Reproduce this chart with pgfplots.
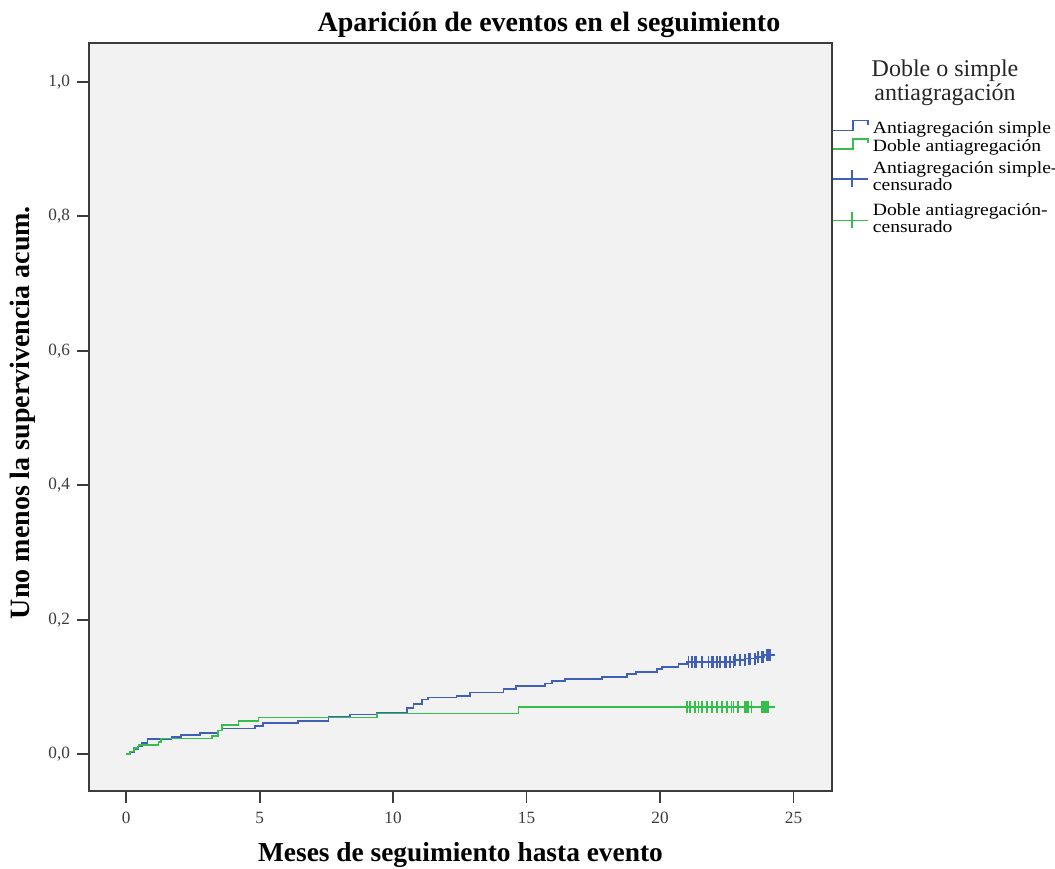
\documentclass[border=0pt]{standalone}
\usepackage{pgfplots}
\pgfplotsset{compat=1.18}
\usepackage{fontspec}
\setmainfont{Liberation Serif}
\newfontfamily\legfont{Liberation Serif}[FakeStretch=1.14]
\definecolor{spssblue}{HTML}{4060B8}
\definecolor{spssgreen}{HTML}{34BE4C}
\definecolor{bgc}{HTML}{F2F2F2}
\definecolor{framec}{HTML}{3C3C3C}
\begin{document}
\begin{tikzpicture}
\begin{axis}[
  at={(0,0)}, anchor=south west,
  scale only axis, width=371.5pt, height=374pt,
  xmin=-1.39, xmax=26.44, ymin=-0.055, ymax=1.058,
  clip=false,
  axis background/.style={fill=bgc},
  axis line style={framec, line width=0.9pt},
  xtick={0,5,10,15,20,25}, ytick={0,0.2,0.4,0.6,0.8,1},
  tick style={framec, line width=0.9pt},
  major tick length=6pt,
  tick align=outside, xtick pos=bottom, ytick pos=left,
  /pgf/number format/assume math mode=true,
  yticklabel style={/pgf/number format/fixed, /pgf/number format/fixed zerofill, /pgf/number format/precision=1, /pgf/number format/use comma},
  ticklabel style={font=\fontsize{8.6}{10}\selectfont, text=framec},
  xticklabel style={yshift=-1pt},
  every axis title shift=0pt,
  title={Aparición de eventos en el seguimiento},
  title style={at={(axis description cs:0.619,1.024)}, anchor=center, font=\fontsize{14}{16}\selectfont\bfseries},
  xlabel={Meses de seguimiento hasta evento},
  xlabel style={at={(axis description cs:0.5,-0.0856)}, anchor=center, font=\fontsize{13.7}{16}\selectfont\bfseries},
  ylabel={Uno menos la supervivencia acum.},
  ylabel style={at={(axis description cs:-0.0889,0.506)}, anchor=center, font=\fontsize{14}{16}\selectfont\bfseries},
  legend style={at={(axis description cs:1,0.898)}, anchor=north west, draw=none, fill=none,
    inner sep=0pt, row sep=0pt, font=\legfont\fontsize{8.6}{8.5}\selectfont,
    cells={anchor=west, align=left, inner ysep=0pt}},
]
\addplot[spssblue, line width=0.85pt, const plot,
  legend image code/.code={\draw[spssblue,line width=0.75pt] (0pt,-0.7pt)--(9.8pt,-0.7pt)--(9.8pt,4.3pt)--(17.5pt,4.3pt)--(17.5pt,2.2pt);}]
coordinates {
(0,0) (0.15,0.003) (0.3,0.007) (0.45,0.011) (0.6,0.016) (0.8,0.022)
(1.7,0.025) (2.05,0.0283) (2.77,0.0317) (3.45,0.035) (3.6,0.038)
(4.83,0.042) (5.14,0.046) (6.45,0.0496) (7.58,0.0556) (8.39,0.059)
(9.39,0.0615) (10.51,0.069) (10.76,0.074) (11.07,0.081) (11.32,0.084)
(12.38,0.0867) (12.88,0.0917) (14.13,0.0967) (14.6,0.101) (15.69,0.105)
(15.94,0.1086) (16.44,0.1116) (17.82,0.115) (18.75,0.119) (19.1,0.1225)
(19.88,0.1265) (20.06,0.130) (20.69,0.1335) (21.0,0.1365) (22.8,0.140)
(23.2,0.142) (23.6,0.1445) (23.9,0.147) (24.3,0.147)
};
\addlegendentry[text height=4.8pt, text depth=0.5pt]{Antiagregación simple}
\addplot[spssgreen, line width=0.85pt, const plot,
  legend image code/.code={\draw[spssgreen,line width=0.75pt] (0pt,-0.7pt)--(9.8pt,-0.7pt)--(9.8pt,4.3pt)--(17.5pt,4.3pt)--(17.5pt,2.2pt);}]
coordinates {
(0,0) (0.15,0.004) (0.3,0.009) (0.46,0.0134) (1.21,0.018) (1.3,0.0233)
(3.21,0.0273) (3.45,0.035) (3.6,0.0432) (4.21,0.0496) (4.96,0.0545)
(9.39,0.0605) (14.7,0.0700) (24.3,0.0700)
};
\addlegendentry[text height=4.8pt, text depth=0.5pt]{Doble antiagregación}
\addplot[spssblue, only marks, mark=|, mark size=3pt, mark options={line width=0.85pt},
  legend image code/.code={\draw[spssblue,line width=0.75pt] (0pt,-0.5pt)--(17.5pt,-0.5pt); \draw[spssblue,line width=0.75pt] (9.3pt,-4.5pt)--(9.3pt,3.7pt);}]
coordinates {
(21.06,0.1365) (21.19,0.1365) (21.31,0.1365) (21.37,0.1365) (21.56,0.1365)
(21.81,0.1365) (21.94,0.1365) (22.0,0.1365) (22.12,0.1365) (22.25,0.1365)
(22.43,0.1365) (22.49,0.1365) (22.62,0.1365) (22.75,0.1365) (22.81,0.140)
(23.0,0.140) (23.18,0.140) (23.31,0.142) (23.37,0.142) (23.56,0.142)
(23.68,0.1445) (23.81,0.1445) (23.87,0.1445) (24.0,0.147) (24.06,0.147) (24.12,0.147)
};
\addlegendentry[text height=14.8pt, text depth=2.0pt]{Antiagregación simple-\\censurado}
\addplot[spssgreen, only marks, mark=|, mark size=3pt, mark options={line width=0.85pt},
  legend image code/.code={\draw[spssgreen,line width=0.75pt] (0pt,-0.5pt)--(17.5pt,-0.5pt); \draw[spssgreen,line width=0.75pt] (9.3pt,-4.5pt)--(9.3pt,3.7pt);}]
coordinates {
(21.0,0.07) (21.12,0.07) (21.31,0.07) (21.44,0.07) (21.56,0.07) (21.75,0.07)
(21.94,0.07) (22.12,0.07) (22.31,0.07) (22.5,0.07) (22.68,0.07) (22.75,0.07)
(22.93,0.07) (23.18,0.07) (23.25,0.07) (23.31,0.07) (23.43,0.07) (23.81,0.07)
(23.87,0.07) (23.93,0.07) (24.0,0.07) (24.06,0.07)
};
\addlegendentry[text height=14.8pt, text depth=2.0pt]{Doble antiagregación-\\censurado}
\node[align=center, font=\fontsize{12}{12}\selectfont, text=black!85] at (axis description cs:1.1521,0.9465) {Doble o simple\\antiagragación};
\end{axis}
\pgfresetboundingbox
\path (-44.5pt,-38.5pt) rectangle (483pt,395.5pt);
\end{tikzpicture}
\end{document}
